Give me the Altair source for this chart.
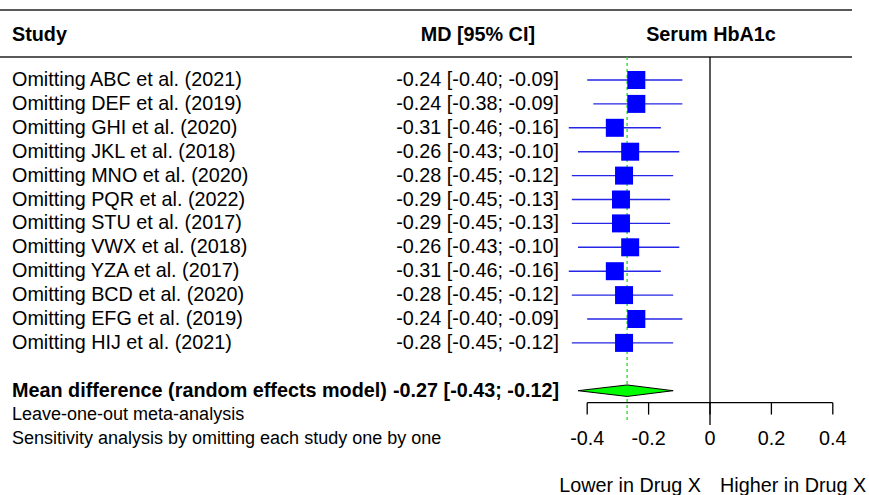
import altair as alt
import pandas as pd

studies = ["Omitting ABC et al. (2021)", "Omitting DEF et al. (2019)", "Omitting GHI et al. (2020)",
           "Omitting JKL et al. (2018)", "Omitting MNO et al. (2020)", "Omitting PQR et al. (2022)",
           "Omitting STU et al. (2017)", "Omitting VWX et al. (2018)", "Omitting YZA et al. (2017)",
           "Omitting BCD et al. (2020)", "Omitting EFG et al. (2019)", "Omitting HIJ et al. (2021)"]
md = [-0.24, -0.24, -0.31, -0.26, -0.28, -0.29, -0.29, -0.26, -0.31, -0.28, -0.24, -0.28]
lower = [-0.40, -0.38, -0.46, -0.43, -0.45, -0.45, -0.45, -0.43, -0.46, -0.45, -0.40, -0.45]
upper = [-0.09, -0.09, -0.16, -0.10, -0.12, -0.13, -0.13, -0.10, -0.16, -0.12, -0.09, -0.12]

pooled_md = -0.27
pooled_lower = -0.43
pooled_upper = -0.12

tick_values = [-0.4, -0.2, 0, 0.2, 0.4]
tick_labels = ["-0.4", "-0.2", "0", "0.2", "0.4"]

W, H = 869, 495
FONT = "Liberation Sans"
FS = 19.8
FS_NOTE = 18

# scales: x pixel = 710 + 307 * value ; row r pixel = 80 + (r-1) * 23.9
x0, xs = 710.0, 307.0
y1, ys = 80.0, 23.9
xdom = [-x0 / xs, (W - x0) / xs]
ydom = [1 - y1 / ys, 1 + (H - y1) / ys]
X = alt.Scale(domain=xdom, nice=False, zero=False)
Y = alt.Scale(domain=ydom, nice=False, zero=False, reverse=True)

def fmt(v):
    return f"{v:.2f}"

rows = pd.DataFrame({
    "study": studies,
    "md": md,
    "lo": lower,
    "hi": upper,
    "row": list(range(1, len(studies) + 1)),
})
rows["ci"] = [f"{fmt(m)} [{fmt(l)}; {fmt(h)}]" for m, l, h in zip(md, lower, upper)]

n = len(studies)
pooled_row = n + 2

base = alt.Chart(rows)

def xq(f):
    return alt.X(f, type="quantitative", scale=X, axis=None)

def yq(f):
    return alt.Y(f, type="quantitative", scale=Y, axis=None)

study_text = base.mark_text(align="left", baseline="middle", font=FONT, fontSize=FS, color="black").encode(
    x=alt.value(12), y=yq("row"), text="study:N")
ci_text = base.mark_text(align="right", baseline="middle", font=FONT, fontSize=FS, color="black").encode(
    x=alt.value(559), y=yq("row"), text="ci:N")
ci_lines = base.mark_rule(color="#2626e6", strokeWidth=1.4).encode(
    x=xq("lo"), x2="hi", y=yq("row"))
squares = base.mark_square(size=324, color="#0000ff", opacity=1, filled=True).encode(
    x=xq("md"), y=yq("row"))

# header
rules_df = pd.DataFrame({"py": [10, 57]})
hrules = alt.Chart(rules_df).mark_rule(color="#222222", strokeWidth=1.5).encode(
    x=alt.value(0), x2=alt.value(852), y=alt.Y("py:Q", scale=alt.Scale(domain=[0, H], range=[0, H], nice=False, zero=False), axis=None))
hdr = pd.DataFrame({
    "label": ["Study", "MD [95% CI]", "Serum HbA1c"],
})
hdr_left = alt.Chart(hdr.iloc[[0]]).mark_text(align="left", baseline="middle", font=FONT, fontSize=FS, fontWeight="bold").encode(
    x=alt.value(12), y=alt.value(35), text="label:N")
hdr_right = alt.Chart(hdr.iloc[[1]]).mark_text(align="right", baseline="middle", font=FONT, fontSize=FS, fontWeight="bold").encode(
    x=alt.value(535), y=alt.value(35), text="label:N")
hdr_center = alt.Chart(hdr.iloc[[2]]).mark_text(align="center", baseline="middle", font=FONT, fontSize=FS, fontWeight="bold").encode(
    x=alt.value(711), y=alt.value(35), text="label:N")

# zero line and pooled dotted line
zero_line = alt.Chart(pd.DataFrame({"v": [0]})).mark_rule(color="black", strokeWidth=1.3).encode(
    x=xq("v"), y=alt.value(57), y2=alt.value(425))
pooled_line = alt.Chart(pd.DataFrame({"v": [pooled_md]})).mark_rule(color="#22dd22", strokeWidth=1.3, strokeDash=[3, 3]).encode(
    x=xq("v"), y=alt.value(57), y2=alt.value(420))

# diamond
hh = 0.24
dia = pd.DataFrame({
    "x": [pooled_lower, pooled_md, pooled_upper],
    "ytop": [pooled_row, pooled_row - hh, pooled_row],
    "ybot": [pooled_row, pooled_row + hh, pooled_row],
})
diamond = alt.Chart(dia).mark_area(color="#00ff00", fill="#00ff00", stroke="black", strokeWidth=1, opacity=1, fillOpacity=1).encode(
    x=xq("x"), y=yq("ytop"), y2="ybot")

pooled_df = pd.DataFrame({
    "label": ["Mean difference (random effects model)"],
    "ci": [f"{fmt(pooled_md)} [{fmt(pooled_lower)}; {fmt(pooled_upper)}]"],
    "row": [pooled_row],
})
pooled_label = alt.Chart(pooled_df).mark_text(align="left", baseline="middle", font=FONT, fontSize=FS, fontWeight="bold").encode(
    x=alt.value(12), y=yq("row"), text="label:N")
pooled_ci = alt.Chart(pooled_df).mark_text(align="right", baseline="middle", font=FONT, fontSize=FS, fontWeight="bold").encode(
    x=alt.value(559), y=yq("row"), text="ci:N")

notes = pd.DataFrame({
    "label": ["Leave-one-out meta-analysis", "Sensitivity analysis by omitting each study one by one"],
    "row": [pooled_row + 1, pooled_row + 2],
})
notes_text = alt.Chart(notes).mark_text(align="left", baseline="middle", font=FONT, fontSize=FS_NOTE).encode(
    x=alt.value(12), y=yq("row"), text="label:N")

# axis
axis_row = pooled_row + 0.5
axis_line = alt.Chart(pd.DataFrame({"a": [tick_values[0]], "b": [tick_values[-1]], "row": [axis_row]})).mark_rule(
    color="black", strokeWidth=1.3).encode(x=xq("a"), x2="b", y=yq("row"))
ticks_df = pd.DataFrame({"v": tick_values, "label": tick_labels, "r1": axis_row, "r2": axis_row + 0.5, "rl": pooled_row + 2})
tick_marks = alt.Chart(ticks_df).mark_rule(color="black", strokeWidth=1.3).encode(
    x=xq("v"), y=yq("r1"), y2="r2")
tick_text = alt.Chart(ticks_df).mark_text(align="center", baseline="middle", font=FONT, fontSize=FS).encode(
    x=xq("v"), y=yq("rl"), text="label:N")

side = pd.DataFrame({"label": ["Lower in Drug X", "Higher in Drug X"], "row": [pooled_row + 4, pooled_row + 4]})
left_lab = alt.Chart(side.iloc[[0]]).mark_text(align="right", baseline="middle", font=FONT, fontSize=FS).encode(
    x=alt.value(701), y=yq("row"), text="label:N")
right_lab = alt.Chart(side.iloc[[1]]).mark_text(align="left", baseline="middle", font=FONT, fontSize=FS).encode(
    x=alt.value(720), y=yq("row"), text="label:N")

chart = alt.layer(
    hrules, hdr_left, hdr_right, hdr_center,
    pooled_line, zero_line,
    ci_lines, squares, study_text, ci_text,
    diamond, pooled_label, pooled_ci, notes_text,
    axis_line, tick_marks, tick_text, left_lab, right_lab,
).resolve_scale(y="independent").properties(
    width=W, height=H, padding=0, autosize=alt.AutoSizeParams(type="none"),
).configure_view(stroke=None)

chart.save("out.html", embed_options={"renderer": "svg", "actions": False})
